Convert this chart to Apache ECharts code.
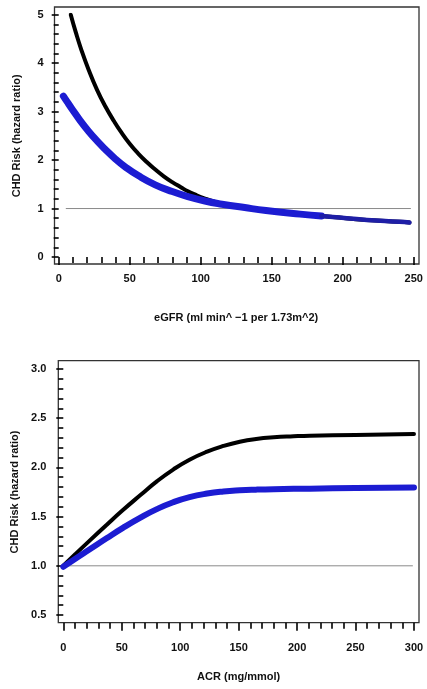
<!DOCTYPE html>
<html>
<head>
<meta charset="utf-8">
<script src="https://cdn.jsdelivr.net/npm/echarts@6/dist/echarts.min.js"></script>
<style>
  html, body { margin: 0; padding: 0; background: #fff; }
  #chart { width: 427px; height: 689px; }
</style>
</head>
<body>
<div id="chart"></div>
<script>
// top panel: CHD risk by eGFR
var egfrBlackX = [8.5, 12, 16, 21, 27, 33, 39, 44, 50, 56, 62, 68, 74, 80, 86, 91, 97, 103, 109, 115, 123, 131, 146, 170, 193, 217, 240, 247];
var egfrBlackY = [5.0, 4.64, 4.27, 3.87, 3.45, 3.1, 2.8, 2.575, 2.335, 2.135, 1.96, 1.805, 1.665, 1.545, 1.44, 1.355, 1.275, 1.205, 1.145, 1.097, 1.055, 1.02, 0.96, 0.885, 0.825, 0.765, 0.725, 0.71];
var egfrBlueX = [3.3, 6, 9, 15, 21, 27, 33, 40, 47, 56, 68, 80, 91, 103, 115, 131, 146, 170, 185];
var egfrBlueY = [3.32, 3.2, 3.07, 2.82, 2.595, 2.395, 2.215, 2.02, 1.855, 1.68, 1.49, 1.35, 1.245, 1.155, 1.09, 1.02, 0.96, 0.885, 0.845];
var egfrTailX = [185, 193, 217, 240, 247];
var egfrTailY = [0.845, 0.825, 0.765, 0.725, 0.71];
var egfrRefX = [5, 248];

// bottom panel: CHD risk by ACR
var acrX = [0, 10, 23, 37, 51, 66, 80, 94, 108, 123, 137, 151, 165, 180, 197, 211, 250, 300];
var acrBlack = [1.0, 1.115, 1.261, 1.415, 1.566, 1.719, 1.858, 1.978, 2.078, 2.16, 2.218, 2.261, 2.289, 2.306, 2.316, 2.322, 2.33, 2.34];
var acrBlue = [0.99, 1.07, 1.171, 1.28, 1.386, 1.49, 1.576, 1.646, 1.698, 1.734, 1.755, 1.767, 1.774, 1.779, 1.782, 1.784, 1.79, 1.795];
var acrRefX = [1, 299];

var FONT = '"Liberation Sans", Arial, sans-serif';

function pairs(xs, ys) {
  return xs.map(function (x, i) { return [x, ys[i]]; });
}
function flat(xs, v) {
  return xs.map(function (x) { return [x, v]; });
}

var chart = echarts.init(document.getElementById('chart'), null, { renderer: 'canvas' });

var tickStyle = { color: '#000', width: 1.6 };
var labelStyle = { color: '#111', fontFamily: FONT, fontWeight: 'bold', fontSize: 11 };
var nameStyle = { color: '#111', fontFamily: FONT, fontWeight: 'bold', fontSize: 11 };

function frameAxis(grid) {
  return { type: 'value', gridIndex: grid, show: false, min: 0, max: 1 };
}

function dataAxis(grid, opts) {
  return {
    type: 'value',
    gridIndex: grid,
    min: opts.min,
    max: opts.max,
    interval: opts.interval,
    offset: opts.offset,
    name: opts.name,
    nameLocation: 'middle',
    nameGap: opts.nameGap,
    nameTextStyle: nameStyle,
    axisLine: { show: false },
    axisTick: { show: true, length: opts.tick, lineStyle: tickStyle },
    minorTick: { show: true, splitNumber: 5, length: opts.minor, lineStyle: tickStyle },
    splitLine: { show: false },
    minorSplitLine: { show: false },
    axisLabel: Object.assign({ margin: opts.margin, formatter: opts.fmt }, labelStyle)
  };
}

function curve(name, data, xi, color, width) {
  return {
    name: name,
    type: 'line',
    xAxisIndex: xi,
    yAxisIndex: xi,
    data: data,
    smooth: 0.5,
    symbol: 'none',
    lineStyle: { color: color, width: width, cap: 'round', join: 'round' }
  };
}

var BLUE = '#1c1cd2';

var option = {
  animation: false,
  backgroundColor: '#fff',
  grid: [
    { left: 54.5, right: 8, top: 7, bottom: 425, show: true, borderColor: '#333', borderWidth: 1.3 },
    { left: 58.7, right: 13.3, top: 14.7, bottom: 432 },
    { left: 58.3, right: 8, top: 360.7, bottom: 66.3, show: true, borderColor: '#333', borderWidth: 1.3 },
    { left: 63.3, right: 13, top: 369, bottom: 74 }
  ],
  xAxis: [
    frameAxis(0),
    dataAxis(1, { min: 0, max: 250, interval: 50, offset: 7, tick: 8, minor: 6, margin: 9,
      name: 'eGFR (ml min^ \u22121 per 1.73m^2)', nameGap: 48 }),
    frameAxis(2),
    dataAxis(3, { min: 0, max: 300, interval: 50, offset: 7.7, tick: 8, minor: 6, margin: 20,
      name: 'ACR (mg/mmol)', nameGap: 49 })
  ],
  yAxis: [
    frameAxis(0),
    dataAxis(1, { min: 0, max: 5, interval: 1, offset: 4.2, tick: 7, minor: 5, margin: 11,
      name: 'CHD Risk (hazard ratio)', nameGap: 32 }),
    frameAxis(2),
    dataAxis(3, { min: 0.5, max: 3, interval: 0.5, offset: 5, tick: 7, minor: 5, margin: 12,
      name: 'CHD Risk (hazard ratio)', nameGap: 38,
      fmt: function (v) { return v.toFixed(1); } })
  ],
  series: [
    {
      type: 'line', xAxisIndex: 1, yAxisIndex: 1, data: flat(egfrRefX, 1), symbol: 'none',
      lineStyle: { color: '#8a8a8a', width: 1 }
    },
    curve('black', pairs(egfrBlackX, egfrBlackY), 1, '#000', 4),
    curve('blue', pairs(egfrBlueX, egfrBlueY), 1, BLUE, 7),
    curve('blue tail', pairs(egfrTailX, egfrTailY), 1, '#1e1ea6', 4.5),
    {
      type: 'line', xAxisIndex: 3, yAxisIndex: 3, data: flat(acrRefX, 1), symbol: 'none',
      lineStyle: { color: '#8a8a8a', width: 1 }
    },
    curve('black', pairs(acrX, acrBlack), 3, '#000', 4),
    curve('blue', pairs(acrX, acrBlue), 3, BLUE, 6)
  ]
};

chart.setOption(option);
window.addEventListener('resize', function () { chart.resize(); });
</script>
</body>
</html>
